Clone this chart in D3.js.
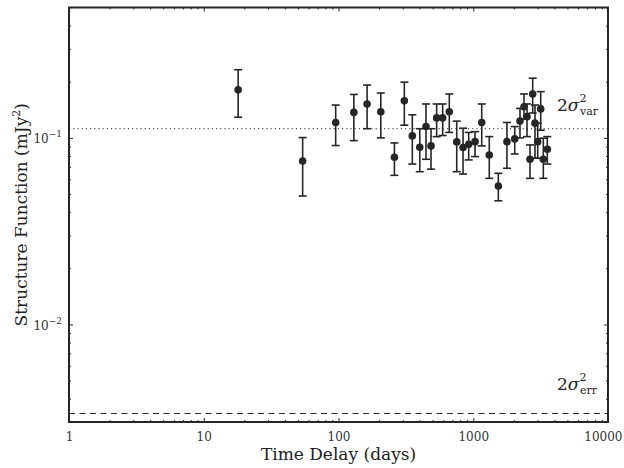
<!DOCTYPE html>
<html>
<head>
<meta charset="utf-8">
<script src="https://cdn.jsdelivr.net/npm/d3@7"></script>
<style>
  body { margin: 0; background: #fff; }
  svg { display: block; }
  text { font-family: "DejaVu Serif", "Liberation Serif", serif; }
</style>
</head>
<body>
<svg id="chart" width="624" height="468"></svg>
<script>
// Structure function: time delay (days), value (mJy^2) and the error-bar limits
const delays   = [18.0, 54.2, 95.3, 130, 163, 206, 260, 308, 353, 401, 446, 486, 535, 593, 664, 754, 840, 925, 1031, 1156, 1315, 1535, 1779, 2032, 2223, 2381, 2506, 2637, 2761, 2872, 3008, 3167, 3312, 3545];
const sfValues = [0.181, 0.0752, 0.121, 0.137, 0.152, 0.138, 0.0788, 0.158, 0.1025, 0.0891, 0.115, 0.0906, 0.128, 0.128, 0.138, 0.0952, 0.0887, 0.0925, 0.0955, 0.121, 0.081, 0.0552, 0.0955, 0.0988, 0.123, 0.147, 0.130, 0.0768, 0.172, 0.120, 0.0955, 0.143, 0.0768, 0.0869];
const sfLower  = [0.129, 0.0488, 0.091, 0.0967, 0.112, 0.100, 0.063, 0.117, 0.0724, 0.0659, 0.0768, 0.068, 0.1015, 0.103, 0.107, 0.0659, 0.064, 0.0762, 0.0794, 0.0906, 0.0607, 0.046, 0.0687, 0.082, 0.100, 0.126, 0.1016, 0.0607, 0.136, 0.0778, 0.0778, 0.110, 0.0607, 0.0724];
const sfUpper  = [0.232, 0.1004, 0.150, 0.171, 0.192, 0.174, 0.094, 0.199, 0.133, 0.112, 0.152, 0.112, 0.152, 0.152, 0.172, 0.123, 0.1127, 0.107, 0.108, 0.152, 0.1016, 0.0646, 0.121, 0.115, 0.144, 0.172, 0.152, 0.0917, 0.209, 0.150, 0.120, 0.177, 0.0996, 0.1016];

// Reference levels: twice the intrinsic variance and twice the measurement-error variance
const varLevel = 0.112;
const errLevel = 0.00333;

// Axis ticks
const xTickValues = [1, 10, 100, 1000, 10000];
const xTickLabels = ["1", "10", "100", "1000", "10000"];
const yTickValues = [0.01, 0.1];
const yTickExponents = ["\u22122", "\u22121"];

const W = 624, H = 468;
const margin = { top: 7.5, right: 16, bottom: 46, left: 69 };
const iw = W - margin.left - margin.right;
const ih = H - margin.top - margin.bottom;

const x = d3.scaleLog().domain([1, 10000]).range([0, iw]);
const y = d3.scaleLog().domain([0.003, 0.5]).range([ih, 0]);

const xMinor = [];
[1, 10, 100, 1000].forEach(dec => { for (let k = 2; k <= 9; k++) xMinor.push(k * dec); });
const yMinor = [];
[0.001, 0.01, 0.1].forEach(dec => {
  for (let k = 2; k <= 9; k++) {
    const v = +(k * dec).toPrecision(3);
    if (v >= 0.003 && v <= 0.5) yMinor.push(v);
  }
});

const svg = d3.select("#chart");
const g = svg.append("g").attr("transform", `translate(${margin.left},${margin.top})`);

const ink = "#262626";

// Ticks on all four sides, pointing inward
function styleAxis(sel) {
  sel.select(".domain").remove();
  sel.selectAll(".tick line").attr("stroke", ink).attr("stroke-width", 1);
}
g.append("g").attr("transform", `translate(0,${ih})`)
  .call(d3.axisBottom(x).tickValues(xMinor).tickSize(-2).tickFormat(""))
  .call(styleAxis);
g.append("g")
  .call(d3.axisTop(x).tickValues(xMinor).tickSize(-2).tickFormat(""))
  .call(styleAxis);
g.append("g").attr("transform", `translate(0,${ih})`)
  .call(d3.axisBottom(x).tickValues(xTickValues).tickSize(-4).tickPadding(10)
    .tickFormat((d, i) => xTickLabels[i]))
  .call(styleAxis)
  .call(s => s.selectAll(".tick text").attr("fill", "#333").attr("font-size", 12)
    .attr("font-family", "DejaVu Serif"))
  // keep the last label inside the page
  .call(s => s.selectAll(".tick text").filter(d => d === 10000)
    .attr("text-anchor", "end").attr("x", 14));
g.append("g")
  .call(d3.axisTop(x).tickValues(xTickValues).tickSize(-4).tickFormat(""))
  .call(styleAxis);

g.append("g")
  .call(d3.axisLeft(y).tickValues(yMinor).tickSize(-2).tickFormat(""))
  .call(styleAxis);
g.append("g").attr("transform", `translate(${iw},0)`)
  .call(d3.axisRight(y).tickValues(yMinor).tickSize(-2).tickFormat(""))
  .call(styleAxis);
g.append("g").attr("transform", `translate(${iw},0)`)
  .call(d3.axisRight(y).tickValues(yTickValues).tickSize(-4).tickFormat(""))
  .call(styleAxis);
const yMajor = g.append("g")
  .call(d3.axisLeft(y).tickValues(yTickValues).tickSize(-4).tickFormat(""))
  .call(styleAxis);

// Power-of-ten labels on the y axis
yMajor.selectAll(".tick").each(function (d, i) {
  const t = d3.select(this).append("text")
    .attr("x", -7).attr("y", 5)
    .attr("text-anchor", "end")
    .attr("fill", "#333")
    .attr("font-size", 12);
  t.append("tspan").text("10");
  t.append("tspan").attr("dy", -6).attr("font-size", 9).text(yTickExponents[i]);
});

// Horizontal reference lines
g.append("line")
  .attr("x1", 0).attr("x2", iw)
  .attr("y1", y(varLevel)).attr("y2", y(varLevel))
  .attr("stroke", "#555").attr("stroke-width", 1.2)
  .attr("stroke-dasharray", "1.2,3");
g.append("line")
  .attr("x1", 0).attr("x2", iw)
  .attr("y1", y(errLevel)).attr("y2", y(errLevel))
  .attr("stroke", ink).attr("stroke-width", 1)
  .attr("stroke-dasharray", "6,4.5");

// Level annotations
function sigmaLabel(yBase, sub) {
  const t = g.append("text")
    .attr("x", iw - 51).attr("y", yBase)
    .attr("fill", "#222").attr("font-size", 17);
  t.append("tspan").text("2");
  t.append("tspan").attr("font-style", "italic").text("\u03C3");
  t.append("tspan").attr("font-size", 11).attr("dy", -9).text("2");
  t.append("tspan").attr("font-size", 11).attr("dx", -6.5).attr("dy", 13).text(sub);
}
sigmaLabel(y(varLevel) - 18, "var");
sigmaLabel(y(errLevel) - 24, "err");

// Error bars with caps, then markers
const pts = delays.map((d, i) => ({ t: d, v: sfValues[i], lo: sfLower[i], hi: sfUpper[i] }));
const bars = g.append("g").attr("stroke", ink).attr("stroke-width", 1.6);
pts.forEach(p => {
  const cx = x(p.t);
  bars.append("line").attr("x1", cx).attr("x2", cx).attr("y1", y(p.lo)).attr("y2", y(p.hi));
  bars.append("line").attr("x1", cx - 4).attr("x2", cx + 4).attr("y1", y(p.lo)).attr("y2", y(p.lo));
  bars.append("line").attr("x1", cx - 4).attr("x2", cx + 4).attr("y1", y(p.hi)).attr("y2", y(p.hi));
});
g.append("g").selectAll("circle").data(pts).join("circle")
  .attr("cx", p => x(p.t)).attr("cy", p => y(p.v))
  .attr("r", 3.8).attr("fill", ink);

// Frame
g.append("rect")
  .attr("x", 0).attr("y", 0).attr("width", iw).attr("height", ih)
  .attr("fill", "none").attr("stroke", ink).attr("stroke-width", 2);

// Axis titles
g.append("text")
  .attr("x", iw / 2).attr("y", ih + 38)
  .attr("text-anchor", "middle").attr("fill", "#222").attr("font-size", 17)
  .text("Time Delay (days)");
const yl = svg.append("text")
  .attr("transform", `translate(27,${margin.top + ih / 2}) rotate(-90)`)
  .attr("text-anchor", "middle").attr("fill", "#222").attr("font-size", 17);
yl.append("tspan").text("Structure Function (mJy");
yl.append("tspan").attr("font-size", 11).attr("dy", -7).text("2");
yl.append("tspan").attr("dy", 7).text(")");
</script>
</body>
</html>
